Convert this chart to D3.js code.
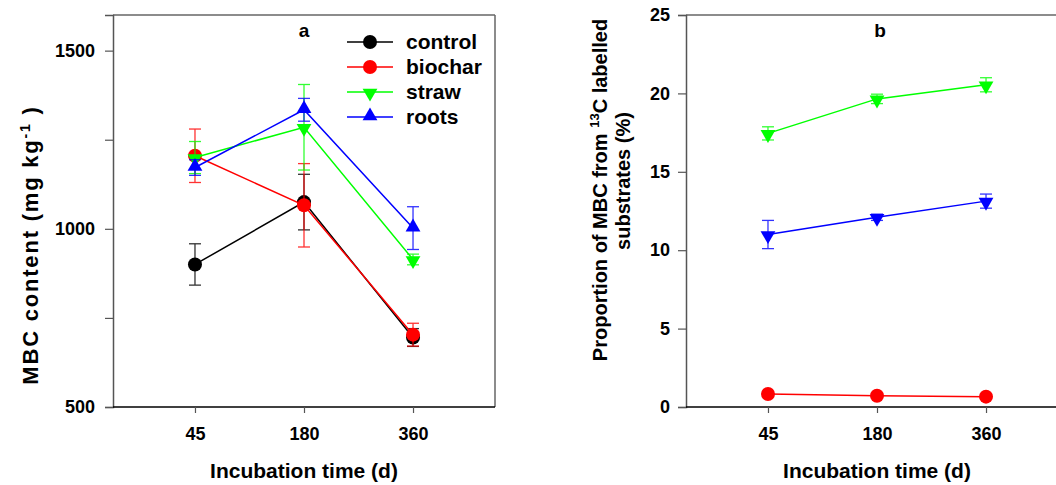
<!DOCTYPE html>
<html><head><meta charset="utf-8">
<script src="https://cdn.jsdelivr.net/npm/d3@7/dist/d3.min.js"></script>
<style>
body{margin:0;background:#fff;}
svg{display:block;font-family:"Liberation Sans",Arial,sans-serif;font-weight:bold;}
</style></head>
<body>
<svg id="c" width="1056" height="485"></svg>
<script>
const days = ["45","180","360"];
// Panel a: MBC content (mg kg-1)
const controlA = [900, 1075, 695];
const controlAErr = [58, 78, 25];
const biocharA = [1205, 1066, 703];
const biocharAErr = [75, 117, 32];
const strawA = [1200, 1285, 914];
const strawAErr = [45, 120, 15];
const rootsA = [1172, 1334, 1002];
const rootsAErr = [22, 32, 60];
const yTicksA = [500, 1000, 1500];
const yMinorA = [750, 1250];
// Panel b: proportion of MBC from 13C labelled substrates (%)
const strawB = [17.45, 19.65, 20.55];
const strawBErr = [0.42, 0.3, 0.45];
const rootsB = [11.0, 12.1, 13.13];
const rootsBErr = [0.9, 0.2, 0.45];
const biocharB = [0.83, 0.72, 0.66];
const biocharBErr = [0.05, 0.05, 0.05];
const yTicksB = [0, 5, 10, 15, 20, 25];

const FONT = '"Liberation Sans",Arial,sans-serif';
const svg = d3.select("#c");
const top_ = 15, bottom = 407;

function panel(x0, x1, yDomain, yTicks, yMinor, series, label, labelX, pad) {
  const x = d3.scalePoint().domain(days).range([x0, x1]).padding(0.752);
  const y = d3.scaleLinear().domain(yDomain).range([bottom, top_]);
  const g = svg.append("g");
  g.append("line").attr("x1", x0).attr("x2", x1).attr("y1", top_).attr("y2", top_).attr("stroke", "#666").attr("stroke-width", 1.5);
  g.append("line").attr("x1", x1).attr("x2", x1).attr("y1", top_).attr("y2", bottom).attr("stroke", "#666").attr("stroke-width", 1.5);
  const ya = g.append("g").attr("transform", `translate(${x0},0)`)
    .call(d3.axisLeft(y).tickValues(yTicks).tickSize(8).tickPadding(pad).tickFormat(d3.format("d")));
  ya.attr("font-size", 18).attr("font-family", FONT).attr("font-weight", "bold");
  ya.select(".domain").attr("stroke", "#555").attr("stroke-width", 1.5);
  ya.selectAll(".tick line").attr("stroke", "#555").attr("stroke-width", 1.2);
  ya.selectAll("text").attr("fill", "#000");
  if (yMinor.length) {
    g.append("g").attr("transform", `translate(${x0},0)`)
      .call(d3.axisLeft(y).tickValues(yMinor).tickSize(8).tickFormat(""))
      .call(s => { s.select(".domain").remove(); s.selectAll("line").attr("stroke", "#555").attr("stroke-width", 1.2); });
  }
  const xa = g.append("g").attr("transform", `translate(0,${bottom})`)
    .call(d3.axisBottom(x).tickSize(6).tickPadding(14).tickSizeOuter(0));
  xa.attr("font-size", 18).attr("font-family", FONT).attr("font-weight", "bold");
  xa.select(".domain").attr("d", `M${x0},0H${x1}`).attr("stroke", "#000").attr("stroke-width", 1.5);
  xa.selectAll(".tick line").attr("stroke", "#555").attr("stroke-width", 1.2);
  xa.selectAll("text").attr("fill", "#000");
  g.append("text").attr("x", (x(days[0]) + x(days[2])) / 2).attr("y", 478).attr("text-anchor", "middle")
    .attr("font-size", 21).text("Incubation time (d)");
  g.append("text").attr("x", labelX).attr("y", 37).attr("text-anchor", "middle").attr("font-size", 19).text(label);

  series.forEach(s => {
    const line = d3.line().x((d, i) => x(days[i])).y(d => y(d));
    g.append("path").attr("d", line(s.values)).attr("fill", "none").attr("stroke", s.color).attr("stroke-width", 1.5);
    s.values.forEach((v, i) => {
      const cx = x(days[i]);
      const e = s.err[i];
      const eg = g.append("g").attr("stroke", s.color).attr("stroke-width", 1.3).attr("opacity", 0.8);
      eg.append("line").attr("x1", cx).attr("x2", cx).attr("y1", y(v - e)).attr("y2", y(v + e));
      eg.append("line").attr("x1", cx - 6).attr("x2", cx + 6).attr("y1", y(v + e)).attr("y2", y(v + e));
      eg.append("line").attr("x1", cx - 6).attr("x2", cx + 6).attr("y1", y(v - e)).attr("y2", y(v - e));
    });
    s.values.forEach((v, i) => drawMarker(g, s.shape, x(days[i]), y(v), s.color));
  });
}

function drawMarker(g, shape, cx, cy, color) {
  if (shape === "circle") {
    g.append("circle").attr("cx", cx).attr("cy", cy).attr("r", 7).attr("fill", color);
  } else {
    const sym = d3.symbol().type(d3.symbolTriangle).size(95);
    g.append("path").attr("d", sym()).attr("fill", color)
      .attr("transform", `translate(${cx},${cy + (shape === "down" ? 1 : -1)}) rotate(${shape === "down" ? 180 : 0})`);
  }
}

const seriesA = [
  {name: "control", values: controlA, err: controlAErr, color: "#000000", shape: "circle"},
  {name: "biochar", values: biocharA, err: biocharAErr, color: "#ff0000", shape: "circle"},
  {name: "straw", values: strawA, err: strawAErr, color: "#00ff00", shape: "down"},
  {name: "roots", values: rootsA, err: rootsAErr, color: "#0000ff", shape: "up"}
];
const seriesB = [
  {name: "straw", values: strawB, err: strawBErr, color: "#00ff00", shape: "down"},
  {name: "roots", values: rootsB, err: rootsBErr, color: "#0000ff", shape: "down"},
  {name: "biochar", values: biocharB, err: biocharBErr, color: "#ff0000", shape: "circle"}
];

panel(113, 495, [500, 1600], yTicksA, yMinorA, seriesA, "a", 304, 10);
panel(686, 1068, [0, 25], yTicksB, [], seriesB, "b", 880, 8);

const leg = svg.append("g");
seriesA.forEach((s, i) => {
  const ly = 42 + i * 25;
  leg.append("line").attr("x1", 347).attr("x2", 393).attr("y1", ly).attr("y2", ly).attr("stroke", s.color).attr("stroke-width", 1.5);
  drawMarker(leg, s.shape, 370, ly, s.color);
  leg.append("text").attr("x", 406).attr("y", ly + 7).attr("font-size", 21).text(s.name);
});

const ta = svg.append("text").attr("transform", "translate(38,245) rotate(-90)").attr("text-anchor", "middle")
  .attr("font-size", 22).attr("letter-spacing", 1.8);
ta.append("tspan").text("MBC content (mg kg");
ta.append("tspan").attr("font-size", 14).attr("baseline-shift", "60%").text("-1");
ta.append("tspan").text(" )");

const tb1 = svg.append("text").attr("transform", "translate(607,190) rotate(-90)").attr("text-anchor", "middle").attr("font-size", 20);
tb1.append("tspan").text("Proportion of MBC from ");
tb1.append("tspan").attr("font-size", 13).attr("baseline-shift", "60%").text("13");
tb1.append("tspan").text("C labelled");
svg.append("text").attr("transform", "translate(630,181) rotate(-90)").attr("text-anchor", "middle").attr("font-size", 20)
  .text("substrates (%)");
</script>
</body></html>
